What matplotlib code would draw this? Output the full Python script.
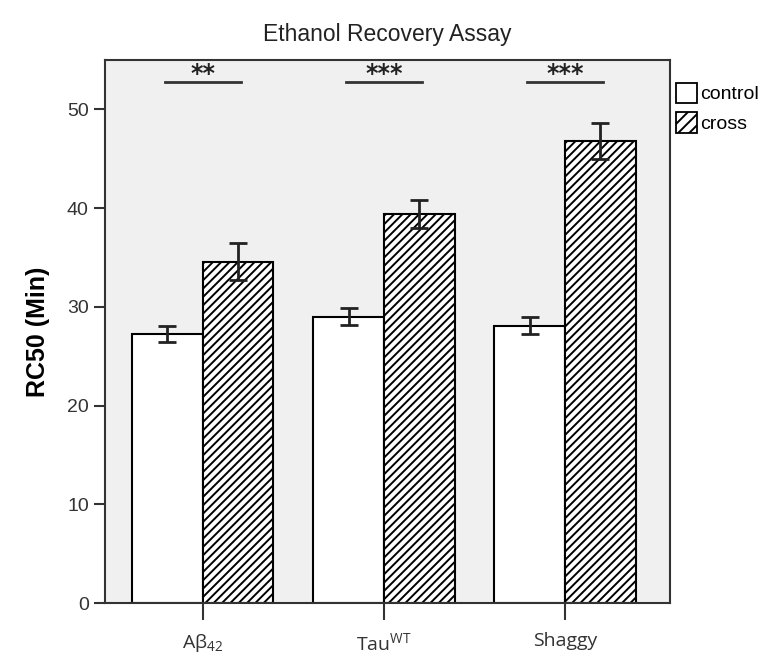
import numpy as np
import matplotlib
matplotlib.use("Agg")
import matplotlib.pyplot as plt
from matplotlib.patches import Patch

plt.rcParams['font.family'] = ['Liberation Sans', 'DejaVu Sans']
plt.rcParams['hatch.linewidth'] = 1.4
plt.rcParams['mathtext.fontset'] = 'custom'
plt.rcParams['mathtext.rm'] = 'Open Sans'

groups = [r'A$\mathrm{\beta}_{42}$', r'Tau$^{\mathrm{WT}}$', 'Shaggy']
control = [27.3, 29.0, 28.1]
control_err = [0.8, 0.85, 0.85]
cross = [34.6, 39.4, 46.8]
cross_err = [1.85, 1.4, 1.85]
stars = ['**', '***', '***']

fig = plt.figure(figsize=(7.82, 6.6), dpi=100)
ax = fig.add_axes([0.134, 0.086, 0.723, 0.823])
ax.set_facecolor('#f0f0f0')

x = np.arange(len(groups))
w = 0.39
ax.bar(x - w/2, control, w, color='white', edgecolor='black', linewidth=1.5)
ax.bar(x + w/2, cross, w, color='white', edgecolor='black', linewidth=1.5, hatch='////')
ax.errorbar(x - w/2, control, yerr=control_err, fmt='none', ecolor='#222222',
            elinewidth=2, capsize=6.5, capthick=2)
ax.errorbar(x + w/2, cross, yerr=cross_err, fmt='none', ecolor='#222222',
            elinewidth=2, capsize=6.5, capthick=2)

# significance bars
for i, s in enumerate(stars):
    ax.plot([i - 0.21, i + 0.21], [52.8, 52.8], color='#333333', lw=2)
    ax.text(i, 52.9, s, ha='center', va='baseline', fontsize=17, fontweight='bold',
            family='DejaVu Sans', color='#222222')

ax.set_xlim(-0.54, 2.58)
ax.set_ylim(0, 55)
ax.set_yticks(np.arange(0, 51, 10))
ax.set_xticks(x)
ax.set_xticklabels(groups, fontsize=14, family=['Open Sans', 'DejaVu Sans'])
ax.tick_params(axis='y', labelsize=14, length=8, width=1.5, colors='#333333')
ax.tick_params(axis='x', length=12, width=1.5, pad=9, colors='#333333')
for sp in ax.spines.values():
    sp.set_linewidth(1.5)
    sp.set_color('#333333')

ax.set_ylabel('RC50 (Min)', fontsize=18, fontweight='bold', labelpad=12)
ax.set_title('Ethanol Recovery Assay', fontsize=16.5, pad=14, color='#222222')

handles = [Patch(facecolor='white', edgecolor='black', linewidth=1.3, label='control'),
           Patch(facecolor='white', edgecolor='black', linewidth=1.3, hatch='///', label='cross')]
fig.legend(handles=handles, loc='upper left', bbox_to_anchor=(0.864, 0.875), frameon=False,
           fontsize=14, handlelength=1.1, handleheight=1.25, handletextpad=0.15,
           labelspacing=0.45, borderaxespad=0, borderpad=0)

fig.savefig('out.png', dpi=100)
